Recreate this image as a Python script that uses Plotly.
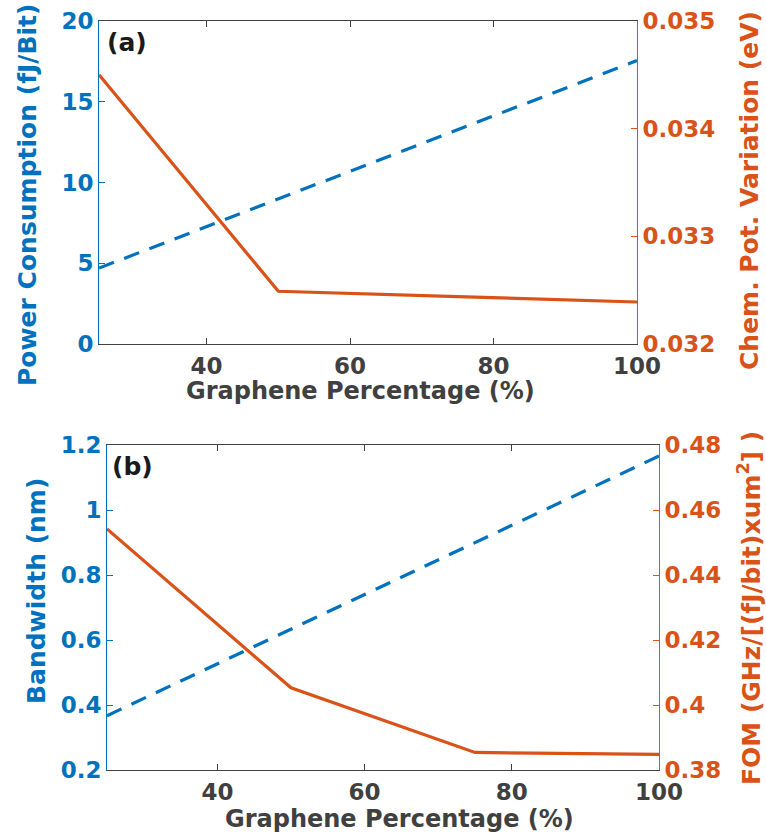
import plotly.graph_objects as go

# Data
graphene_pct = [25, 50, 75, 100]
power_consumption = [4.7, 9.0, 13.3, 17.55]
chem_pot_variation = [0.03450, 0.03249, 0.03244, 0.03239]
bandwidth = [0.367, 0.633, 0.900, 1.166]
fom = [0.4542, 0.4053, 0.3854, 0.3848]
x_title = "Graphene Percentage (%)"
y_titles = ["Power Consumption (fJ/Bit)", "Chem. Pot. Variation (eV)",
            "Bandwidth (nm)", "FOM (GHz/[(fJ/bit)xum<sup>2</sup>] )"]

BLUE = "#0072BD"
ORANGE = "#D95319"
GREY = "#404040"
FONT = "DejaVu Sans"

fig = go.Figure()

fig.add_trace(go.Scatter(x=graphene_pct, y=power_consumption, mode="lines",
                         line=dict(color=BLUE, width=3.2, dash="16px,11px"),
                         xaxis="x", yaxis="y", showlegend=False))
fig.add_trace(go.Scatter(x=graphene_pct, y=chem_pot_variation, mode="lines",
                         line=dict(color=ORANGE, width=3.2),
                         xaxis="x", yaxis="y2", showlegend=False))
fig.add_trace(go.Scatter(x=graphene_pct, y=bandwidth, mode="lines",
                         line=dict(color=BLUE, width=3.2, dash="16px,11px"),
                         xaxis="x2", yaxis="y3", showlegend=False))
fig.add_trace(go.Scatter(x=graphene_pct, y=fom, mode="lines",
                         line=dict(color=ORANGE, width=3.2),
                         xaxis="x2", yaxis="y4", showlegend=False))

W, H = 766, 840
top_dom_y = [1 - 344 / H, 1 - 21 / H]
bot_dom_y = [1 - 770 / H, 1 - 445 / H]
top_dom_x = [99 / W, 637 / W]
bot_dom_x = [107 / W, 659 / W]

tickfont_grey = dict(family=FONT, size=23, color=GREY, weight="bold")
tickfont_blue = dict(family=FONT, size=23, color=BLUE, weight="bold")
tickfont_orange = dict(family=FONT, size=23, color=ORANGE, weight="bold")
title_grey = dict(family=FONT, size=24, color=GREY, weight="bold")
title_blue = dict(family=FONT, size=25, color=BLUE, weight="bold")
title_orange = dict(family=FONT, size=25, color=ORANGE, weight="bold")

xcommon = dict(range=[25, 100], tickvals=[40, 60, 80, 100], ticks="inside",
               ticklen=6, tickcolor=GREY, showline=True, linecolor=GREY,
               linewidth=1, mirror="ticks", showgrid=False, zeroline=False,
               tickfont=tickfont_grey, automargin=False, ticklabelstandoff=1)
ycommon = dict(ticks="inside", ticklen=6, showline=True, linewidth=1,
               showgrid=False, zeroline=False, automargin=False)


def title_ann(text, cx, cy, font, angle=0):
    return dict(text=text, x=cx / W, y=1 - cy / H, xref="paper", yref="paper",
                xanchor="center", yanchor="middle", showarrow=False,
                textangle=angle, font=font)


fig.update_layout(
    width=W, height=H, margin=dict(l=0, r=0, t=0, b=0),
    paper_bgcolor="white", plot_bgcolor="white",
    xaxis=dict(domain=top_dom_x, anchor="y", **xcommon),
    xaxis2=dict(domain=bot_dom_x, anchor="y3", **xcommon),
    yaxis=dict(domain=top_dom_y, anchor="x", range=[0, 20], tickvals=[0, 5, 10, 15, 20],
               tickcolor=BLUE, linecolor=BLUE, tickfont=tickfont_blue, **ycommon),
    yaxis2=dict(domain=top_dom_y, anchor="x", overlaying="y", side="right",
                range=[0.032, 0.035], tickvals=[0.032, 0.033, 0.034, 0.035],
                ticktext=["0.032", "0.033", "0.034", "0.035"],
                tickcolor=ORANGE, linecolor=ORANGE, tickfont=tickfont_orange, **ycommon),
    yaxis3=dict(domain=bot_dom_y, anchor="x2", range=[0.2, 1.2],
                tickvals=[0.2, 0.4, 0.6, 0.8, 1.0, 1.2],
                ticktext=["0.2", "0.4", "0.6", "0.8", "1", "1.2"],
                tickcolor=BLUE, linecolor=BLUE, tickfont=tickfont_blue, **ycommon),
    yaxis4=dict(domain=bot_dom_y, anchor="x2", overlaying="y3", side="right",
                range=[0.38, 0.48], tickvals=[0.38, 0.40, 0.42, 0.44, 0.46, 0.48],
                ticktext=["0.38", "0.4", "0.42", "0.44", "0.46", "0.48"],
                tickcolor=ORANGE, linecolor=ORANGE, tickfont=tickfont_orange, **ycommon),
    annotations=[
        title_ann(x_title, 360, 391, title_grey),
        title_ann(x_title, 399, 819, title_grey),
        title_ann(y_titles[0], 27, 195, title_blue, -90),
        title_ann(y_titles[1], 750, 191, title_orange, -90),
        title_ann(y_titles[2], 36, 591, title_blue, -90),
        title_ann(y_titles[3], 749, 608, title_orange, -90),
        dict(text="(a)", x=top_dom_x[0] + 6 / W, y=top_dom_y[1] - 5 / H, xref="paper", yref="paper",
             xanchor="left", yanchor="top", showarrow=False,
             font=dict(family=FONT, size=25, color="#1a1a1a", weight="bold")),
        dict(text="(b)", x=bot_dom_x[0] + 3 / W, y=bot_dom_y[1] - 5 / H, xref="paper", yref="paper",
             xanchor="left", yanchor="top", showarrow=False,
             font=dict(family=FONT, size=25, color="#1a1a1a", weight="bold")),
    ],
)

fig.write_html("out.html")
